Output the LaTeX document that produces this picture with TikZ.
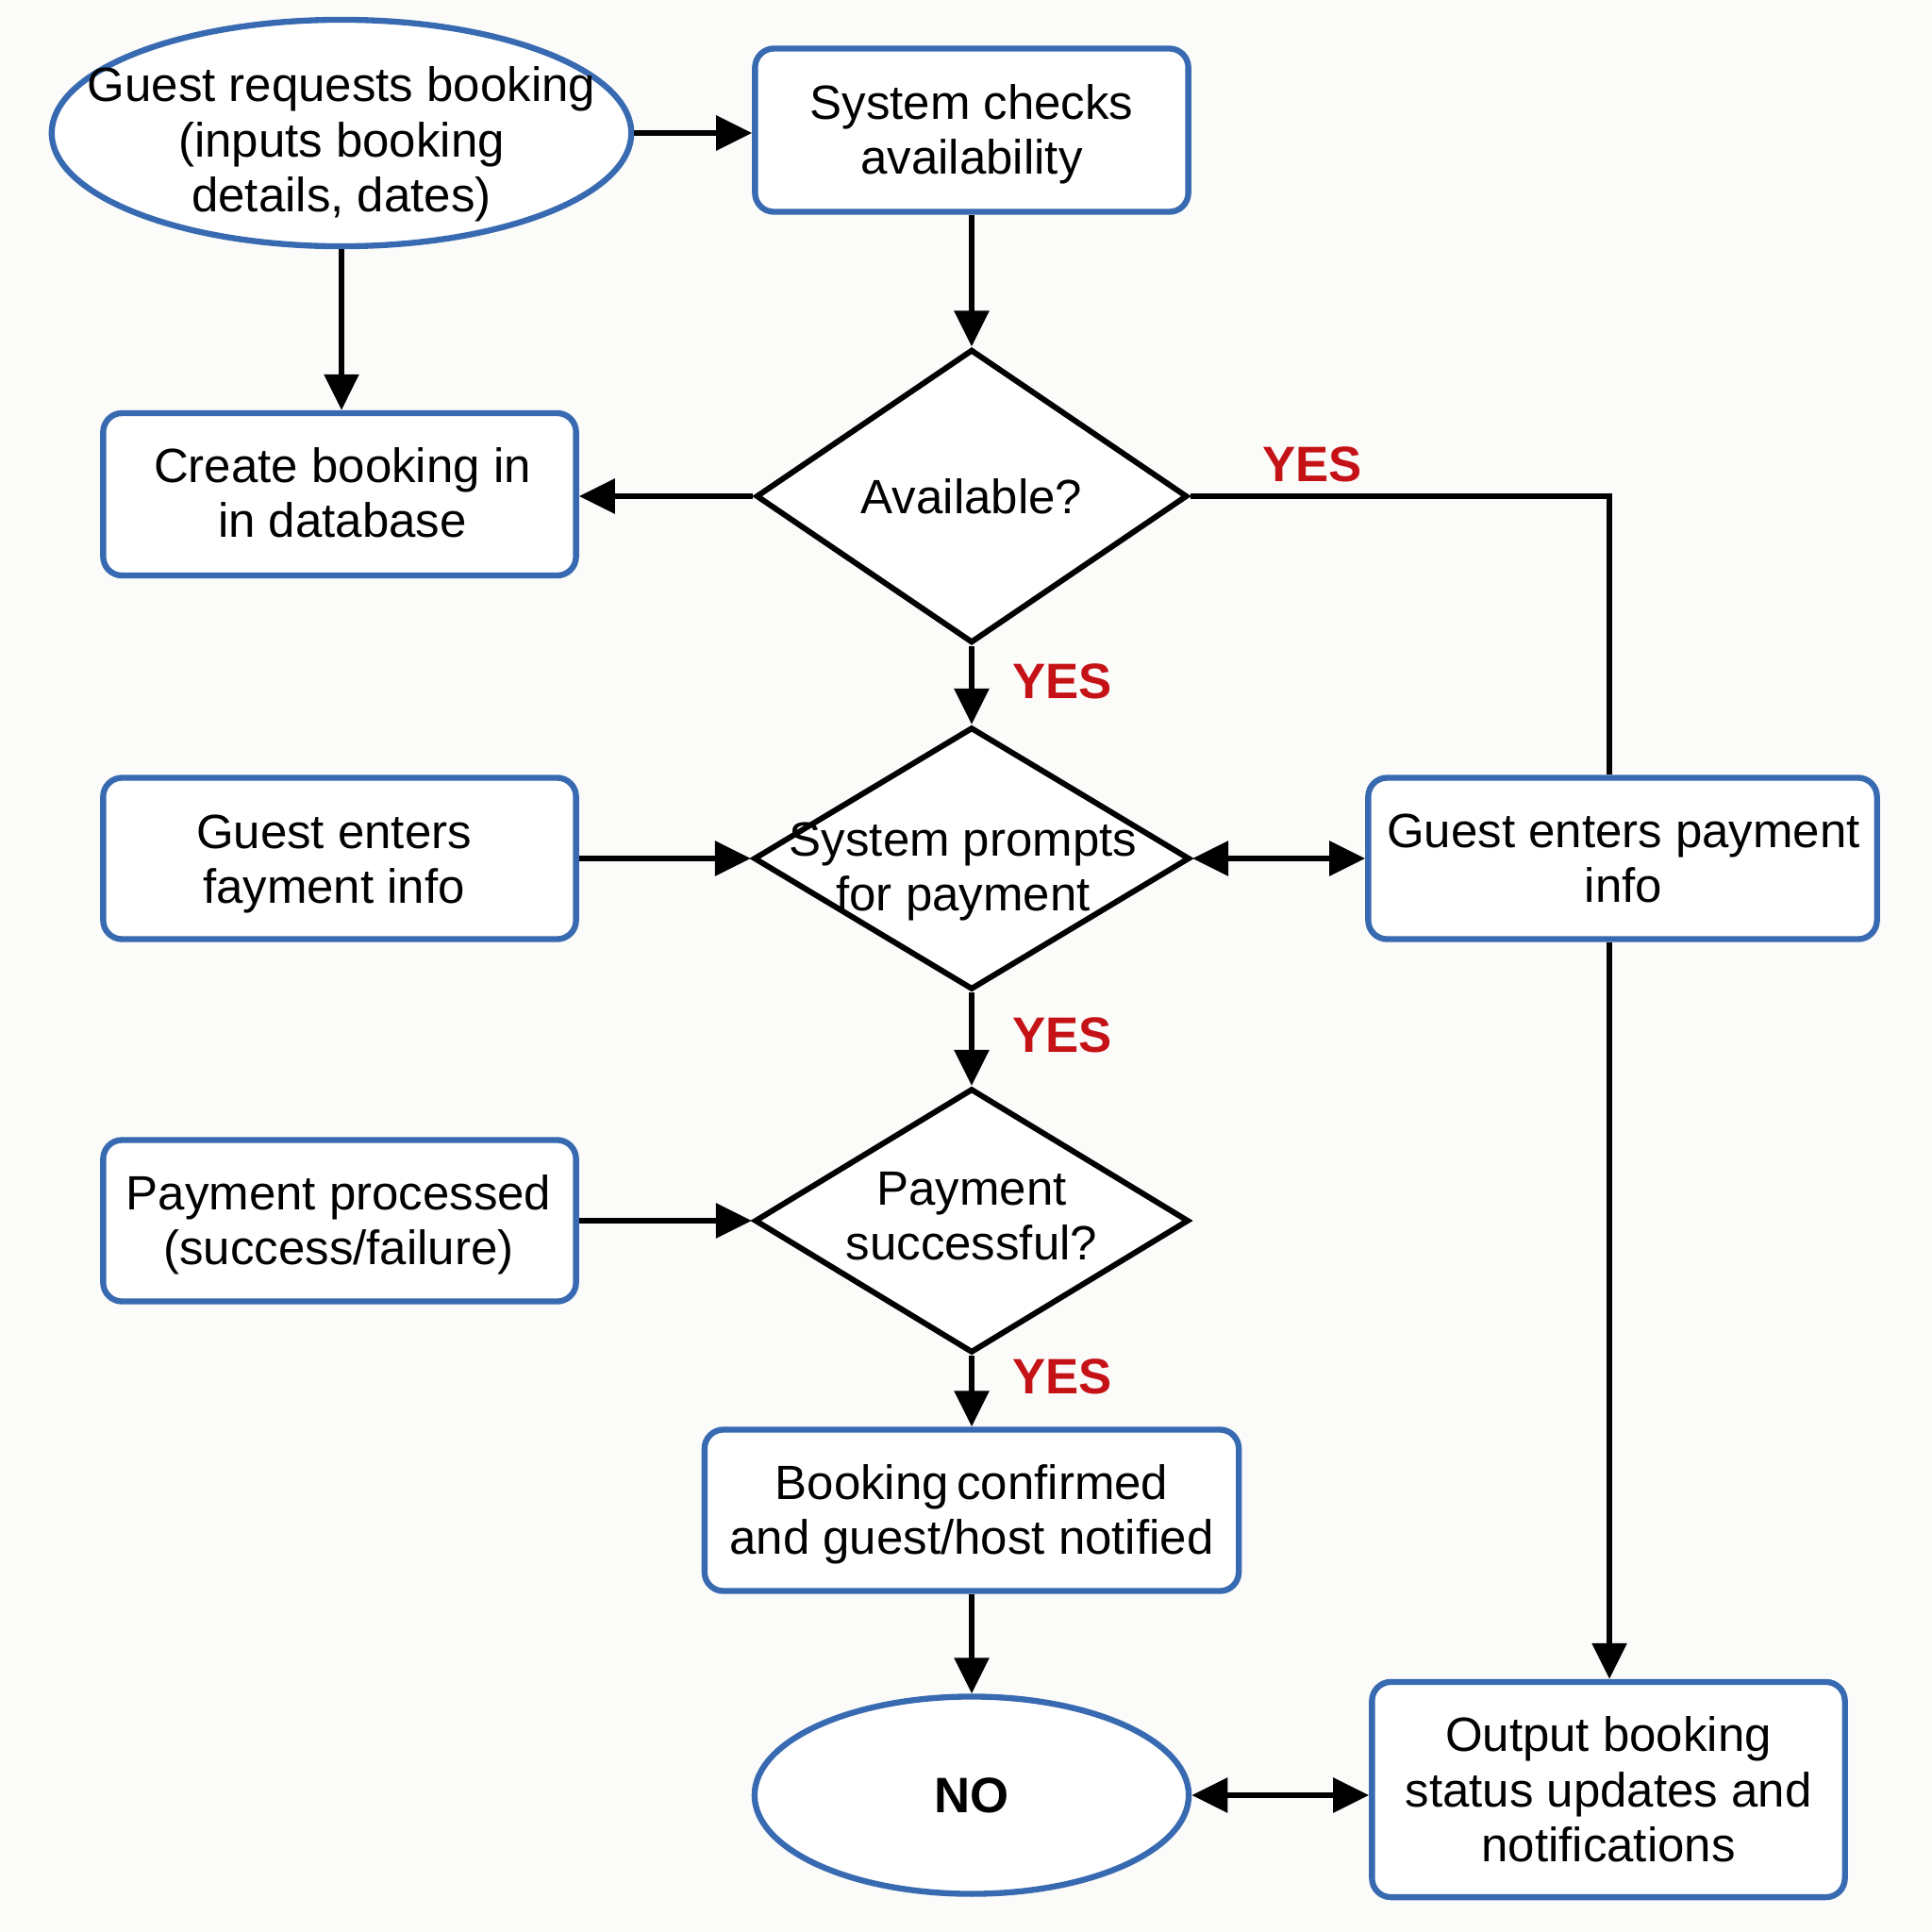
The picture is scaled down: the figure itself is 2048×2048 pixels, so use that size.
\documentclass[tikz,border=0pt]{standalone}
\usepackage{fontspec}
\setmainfont{Liberation Sans}
\usetikzlibrary{shapes.geometric,arrows.meta}
\definecolor{bblue}{RGB}{56,106,178}
\definecolor{yred}{RGB}{196,18,22}
\definecolor{bgc}{RGB}{251,251,249}
\tikzset{
  x=0.01cm, y=-0.01cm,
  txt/.style={font=\fontsize{14.5}{16.6}\selectfont, align=center, inner sep=0pt},
  bbox/.style={draw=bblue, line width=1.8pt, fill=white, rounded corners=2mm, inner sep=0pt},
  oval/.style={ellipse, draw=bblue, line width=1.8pt, fill=white, inner sep=0pt},
  dia/.style={diamond, draw=black, line width=1.7pt, fill=white, inner sep=0pt},
  arr/.style={draw=black, line width=1.7pt, -{Triangle[length=3.8mm,width=3.6mm]}},
  arrtwo/.style={draw=black, line width=1.7pt, {Triangle[length=3.8mm,width=3.6mm]}-{Triangle[length=3.8mm,width=3.6mm]}},
  ln/.style={draw=black, line width=1.7pt},
  yes/.style={font=\fontsize{15}{18}\selectfont\bfseries, text=yred, inner sep=0pt},
}
\begin{document}
\begin{tikzpicture}
\fill[bgc] (0,0) rectangle (2048,2048);
\useasboundingbox (0,0) rectangle (2048,2048);

% shapes
\node[oval, minimum width=6.14cm, minimum height=2.40cm] (e1) at (362,141) {};
\node[bbox, minimum width=4.59cm, minimum height=1.73cm] (b1) at (1030,138) {};
\node[dia, minimum width=4.57cm, minimum height=3.11cm] (d1) at (1030,526) {};
\node[bbox, minimum width=5.01cm, minimum height=1.72cm] (cb) at (360,524) {};
\node[dia, minimum width=4.62cm, minimum height=2.78cm] (d2) at (1030,910) {};
\node[bbox, minimum width=5.01cm, minimum height=1.71cm] (gf) at (360,910) {};
\node[bbox, minimum width=5.39cm, minimum height=1.71cm] (gp) at (1720,910) {};
\node[dia, minimum width=4.60cm, minimum height=2.80cm] (d3) at (1030,1294) {};
\node[bbox, minimum width=5.01cm, minimum height=1.71cm] (pp) at (360,1294) {};
\node[bbox, minimum width=5.66cm, minimum height=1.71cm] (bc) at (1030,1601) {};
\node[oval, minimum width=4.60cm, minimum height=2.09cm] (no) at (1030,1903) {};
\node[bbox, minimum width=5.01cm, minimum height=2.28cm] (out) at (1705,1897) {};

% texts
\node[txt] (te1) at (362,153) {Guest requests booking\\(inputs booking\\details, dates)};
\node[txt] (tb1) at (1030,142) {System checks\\availability};
\node[txt] (td1) at (1030,526) {Available?};
\node[txt] (tcb) at (363,522) {Create booking in\\in database};
\node[txt] (td2) at (1021,924) {System prompts\\for payment};
\node[txt] (tgf) at (354,916) {Guest enters\\fayment info};
\node[txt] (tgp) at (1721,910) {Guest enters payment\\info};
\node[txt] (td3) at (1030,1289) {Payment\\successful?};
\node[txt] (tpp) at (359,1298) {Payment processed\\(success/failure)};
\node[txt] (tbc) at (1030,1605) {Booking\,confirmed\\and guest/host notified};
\node[txt, font=\fontsize{15}{18}\selectfont\bfseries] (tno) at (1030,1903) {NO};
\node[txt] (tout) at (1705,1897) {Output booking\\status updates and\\notifications};

% labels
\node[yes] (y1) at (1391,492) {YES};
\node[yes] (y2) at (1126,722) {YES};
\node[yes] (y3) at (1126,1097) {YES};
\node[yes] (y4) at (1126,1459) {YES};

% connectors
\coordinate (c1) at (1706,526);
\draw[arr] (e1.east) -- (e1.east -| b1.west);
\draw[arr] (e1.south) -- (e1.south |- cb.north);
\draw[arr] (b1.south) -- (d1.north);
\draw[arr] (d1.west) -- (d1.west -| cb.east);
\draw[ln] (d1.east) -- (c1) -- (c1 |- gp.north);
\draw[arr] (d1.south) -- (d2.north);
\draw[arr] (gf.east) -- (d2.west);
\draw[arrtwo] (d2.east) -- (gp.west);
\draw[arr] (d2.south) -- (d3.north);
\draw[arr] (pp.east) -- (d3.west);
\draw[arr] (d3.south) -- (bc.north);
\draw[arr] (bc.south) -- (no.north);
\draw[arr] (c1 |- gp.south) -- (c1 |- out.north);
\draw[arrtwo] (no.east) -- (no.east -| out.west);
\end{tikzpicture}
\end{document}
